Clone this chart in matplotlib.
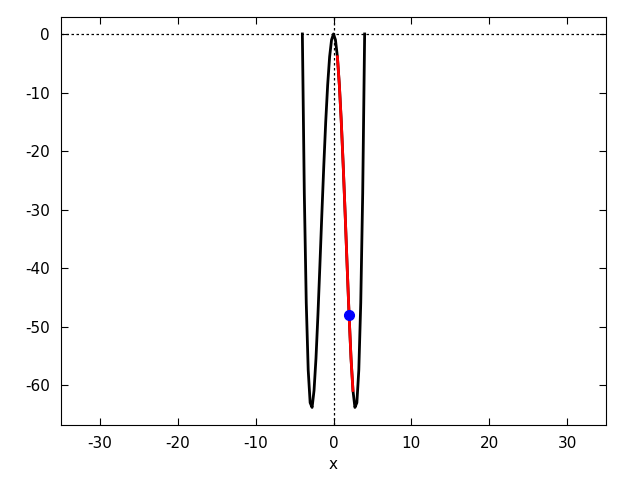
import matplotlib
matplotlib.use("Agg")
import matplotlib.pyplot as plt

plt.rcParams["axes.unicode_minus"] = False

# curve values (x from -4 to 4)
curve_x = [-4.0, -3.75, -3.5, -3.25, -3.0, -2.75, -2.5, -2.25, -2.0, -1.75, -1.5,
           -1.25, -1.0, -0.75, -0.5, -0.25, 0.0, 0.25, 0.5, 0.75, 1.0, 1.25, 1.5,
           1.75, 2.0, 2.25, 2.5, 2.75, 3.0, 3.25, 3.5, 3.75, 4.0]
curve_y = [0.0, -27.2, -45.9, -57.4, -63.0, -63.8, -60.9, -55.4, -48.0, -39.6, -30.9,
           -22.6, -15.0, -8.7, -3.9, -1.0, 0.0, -1.0, -3.9, -8.7, -15.0, -22.6, -30.9,
           -39.6, -48.0, -55.4, -60.9, -63.8, -63.0, -57.4, -45.9, -27.2, 0.0]

# highlighted section of the curve
seg_x = [0.5, 0.75, 1.0, 1.25, 1.5, 1.75, 2.0, 2.25, 2.5]
seg_y = [-3.9, -8.7, -15.0, -22.6, -30.9, -39.6, -48.0, -55.4, -60.9]

point_x = [2.0]
point_y = [-48.0]

fig = plt.figure(figsize=(6.4, 4.8), dpi=100)
ax = fig.add_axes([0.0953, 0.1146, 0.8516, 0.85])

ax.axhline(0, color="black", lw=0.9, ls=(0, (2, 2)))
ax.axvline(0, color="black", lw=0.9, ls=(0, (2, 2)))

ax.plot(curve_x, curve_y, color="black", lw=2)
ax.plot(seg_x, seg_y, color="red", lw=2)
ax.plot(point_x, point_y, "o", color="blue", ms=7)

ax.set_xlim(-35, 35)
ax.set_ylim(-66.8, 2.9)
ax.set_xticks([-30, -20, -10, 0, 10, 20, 30])
ax.set_yticks([0, -10, -20, -30, -40, -50, -60])
ax.tick_params(direction="in", length=5, top=True, right=True, labelsize=11, pad=8)
ax.set_xlabel("x", fontsize=11)

fig.savefig("out.png")
